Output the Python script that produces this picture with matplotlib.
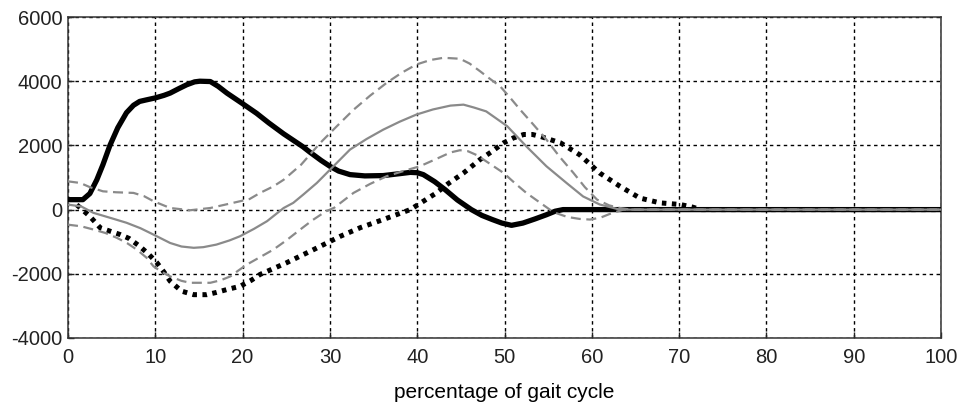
import numpy as np
import matplotlib.pyplot as plt

# force curves over the gait cycle (x in % of cycle)
solid_x = [0, 1.7, 2.5, 3.3, 4, 4.8, 5.7, 6.7, 7.5, 8.2, 9, 10, 11, 11.7, 12.7, 13.6, 14.5, 15.1,
           16.3, 17.2, 18.2, 20, 21.6, 23, 24.7, 26.9, 27.7, 29, 30, 31, 32.3, 34, 36.1, 38, 39.2, 40,
           40.7, 42, 43.2, 44.6, 46.2, 47.4, 48.6, 49.7, 50.8, 52.1, 53.5, 54.8, 55.8, 56.7, 60, 100]
solid_y = [310, 310, 500, 930, 1400, 2000, 2550, 3020, 3250, 3370, 3420, 3480, 3560, 3630, 3770, 3890, 3980, 4000,
           3990, 3840, 3630, 3300, 3000, 2700, 2360, 1960, 1790, 1530, 1350, 1200, 1090, 1050, 1060, 1120, 1160, 1150,
           1090, 870, 620, 300, 0, -180, -310, -420, -490, -420, -290, -160, -50, 0, 0, 0]

dotted_x = [1, 2.5, 3.7, 6, 7, 8.2, 9.2, 10.2, 11, 11.7, 13, 14.4, 15.9, 17, 18.2, 19.7, 21, 22, 25, 28.1,
            31.2, 33.5, 36.1, 39.2, 42.2, 43.5, 45.3, 47.2, 48.5, 49.9, 51, 52.2, 53.2, 54.1, 56.4, 58.6,
            60.9, 63.2, 65.5, 67.8, 70.1, 71.5, 72.5, 100]
dotted_y = [150, -210, -570, -780, -900, -1140, -1380, -1660, -1950, -2230, -2540, -2650, -2650, -2580, -2490, -2390, -2200, -2020, -1660, -1250,
            -830, -560, -310, 0, 520, 800, 1140, 1560, 1800, 2080, 2230, 2340, 2340, 2280, 2080, 1710,
            1140, 730, 360, 210, 160, 80, 0, 0]

mid_x = [0, 1.5, 2.9, 5, 6.7, 8.3, 9.8, 11.7, 13, 14.4, 15.5, 17, 18.5, 19.7, 21.3, 22.8, 24.7, 25.8, 27,
         28.5, 30.4, 32.3, 34.2, 36.1, 38, 39.9, 41.8, 43.8, 45.3, 46.5, 47.9, 49, 50.3, 52.5, 54.8, 57.1,
         59, 60.9, 63.2, 100]
mid_y = [155, 100, -100, -270, -410, -580, -780, -1040, -1150, -1190, -1170, -1090, -960, -830, -600, -360, 50, 210, 480,
         830, 1350, 1870, 2200, 2490, 2740, 2960, 3120, 3240, 3270, 3180, 3060, 2850, 2600, 1970, 1350, 830,
         410, 160, 0, 0]

upper_x = [0, 1.4, 2.5, 4, 5.5, 7.5, 8.7, 9.8, 11.7, 14, 16.3, 18.9, 20.8, 22, 23.5, 24.7, 26.7, 28.9, 30.8,
           32.7, 34.6, 36.5, 38.2, 39.9, 41.5, 43, 44.9, 46, 47.2, 48.3, 49.5, 50.6, 51.8, 53.3, 54.8, 56.3,
           57.9, 59.2, 60.6, 62, 63.2, 64.5, 100]
upper_y = [880, 830, 700, 570, 540, 520, 420, 260, 50, -20, 50, 210, 330, 520, 720, 930, 1400, 2080, 2600,
           3110, 3550, 3950, 4260, 4520, 4660, 4730, 4700, 4550, 4310, 4080, 3840, 3500, 3110, 2650, 2180, 1650,
           1140, 700, 310, 130, 50, 0, 0]

lower_x = [0, 1.5, 2.9, 4.3, 5.6, 6.8, 7.9, 9, 9.8, 10.8, 11.7, 13, 14, 16.3, 17.5, 18.6, 19.5, 20.5, 22, 23.5,
           25, 26.6, 28, 29.5, 30.5, 32.7, 34.6, 36.5, 38.4, 40.3, 42.2, 43.8, 44.9, 45.8, 46.8, 48.2, 49.9,
           51.2, 52.5, 54.1, 55.6, 57.2, 58.6, 59.8, 61, 62.1, 63.6, 100]
lower_y = [-470, -520, -620, -730, -880, -1050, -1250, -1500, -1770, -1950, -2080, -2220, -2280, -2280, -2200, -2080, -1900, -1710, -1480, -1250,
           -960, -620, -330, -60, 60, 520, 800, 1040, 1200, 1350, 1580, 1780, 1850, 1820, 1700, 1450, 1140,
           820, 520, 210, -80, -230, -290, -310, -250, -130, 0, 0]

x_ticks = np.arange(0, 101, 10)
y_ticks = np.arange(-4000, 6001, 2000)

plt.rcParams['font.family'] = ['Liberation Sans', 'DejaVu Sans']
plt.rcParams['axes.unicode_minus'] = False

fig = plt.figure(figsize=(9.58, 4.09), dpi=100)
ax = fig.add_axes([0.071, 0.1736, 0.9113, 0.7848])

gray = '#8a8a8a'
ax.plot(solid_x, solid_y, color='black', lw=3.8, solid_capstyle='round', zorder=3)
ax.plot(dotted_x, dotted_y, color='black', lw=3.6, linestyle=(0, (0.9, 1.1)), zorder=3)
ax.plot(mid_x, mid_y, color=gray, lw=1.6, zorder=4)
ax.plot(upper_x, upper_y, color=gray, lw=1.6, linestyle=(0, (4.5, 2.5)), zorder=4)
ax.plot(lower_x, lower_y, color=gray, lw=1.6, linestyle=(0, (4.5, 2.5)), zorder=4)

ax.set_xlim(0, 100)
ax.set_ylim(-4000, 6000)
ax.set_xticks(x_ticks)
ax.set_yticks(y_ticks)
ax.grid(True, color='black', lw=1.0, linestyle=(0, (2.5, 2.5)))
ax.tick_params(direction='in', length=4, width=1, labelsize=14.5, colors='#222222')
ax.tick_params(axis='x', pad=7)
ax.tick_params(axis='y', pad=4)
for s in ax.spines.values():
    s.set_linewidth(1.1)
    s.set_color('#333333')

ax.set_xlabel('percentage of gait cycle', fontsize=15, labelpad=12)

fig.savefig('out.png', dpi=100)
